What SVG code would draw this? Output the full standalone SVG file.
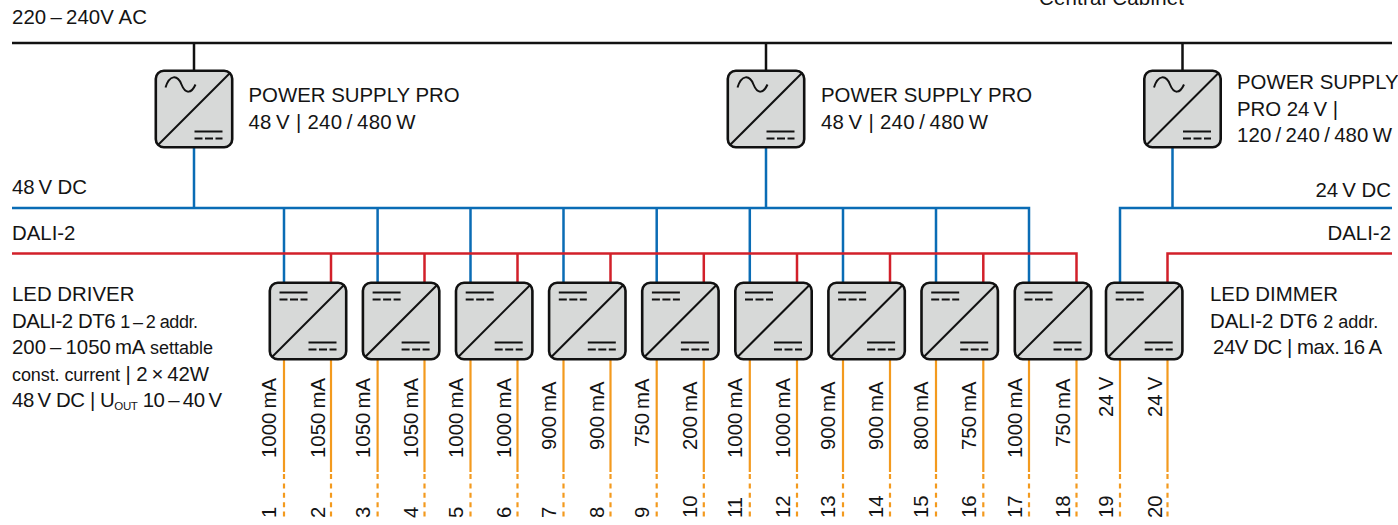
<svg xmlns="http://www.w3.org/2000/svg" xmlns:xlink="http://www.w3.org/1999/xlink" width="1398" height="525" viewBox="0 0 1398 525">
<style>
text{font-family:"Liberation Sans",Arial,sans-serif;font-size:20.4px;fill:#141414}
.s{font-size:18px}
.o{font-size:11.500px}
.e{text-anchor:end}
.box{fill:#d7d9d8;stroke:#111;stroke-width:2.6}
.in{fill:none;stroke:#111;stroke-width:2}
.ac{stroke:#111;stroke-width:2.5;fill:none}
.dc{stroke:#0a6cb5;stroke-width:2.5;fill:none}
.da{stroke:#d2202a;stroke-width:2.5;fill:none}
.out{stroke:#f39a1e;stroke-width:2.2;fill:none}
.das{stroke:#f39a1e;stroke-width:2.2;fill:none;stroke-dasharray:5 4.4}
</style>
<defs>
<g id="psu">
<rect class="box" x="1.3" y="1.3" width="76.4" height="76.4" rx="8"/>
<path class="in" d="M4 75L76 3"/>
<path class="in" d="M11 18C15 5 23 5 27 15S37 24 41 15"/>
<path class="in" d="M40 62H68"/>
<path class="in" d="M40 69H68" stroke-dasharray="8 2.5"/>
</g>
<g id="drv">
<rect class="box" x="1.3" y="1.3" width="76.4" height="76.4" rx="8"/>
<path class="in" d="M4 75L76 3"/>
<path class="in" d="M11 11H39"/>
<path class="in" d="M11 18H39" stroke-dasharray="8 2.5"/>
<path class="in" d="M40 61H68"/>
<path class="in" d="M40 68H68" stroke-dasharray="8 2.5"/>
</g>
</defs>

<g id="connectors">
<path class="ac" d="M12 43H1392M194 43V70M766 43V70M1182.500 43V70"/>
<path class="dc" d="M12 208H1029V282M194 148V208M766 148V208M284 208V282M377.600 208V282M470.500 208V282M563.500 208V282M656.700 208V282M749.800 208V282M843 208V282M936 208V282"/>
<path class="dc" d="M1120 282V208H1392M1172.500 148V208"/>
<path class="da" d="M12 253.500H1076.500V282M331 253.500V282M424.500 253.500V282M517.500 253.500V282M610.500 253.500V282M703.800 253.500V282M797 253.500V282M890 253.500V282M983.300 253.500V282"/>
<path class="da" d="M1167.500 282V253.500H1392"/>
<path class="out" d="M284 359V472M331 359V472M377.600 359V472M424.500 359V472M470.500 359V472M517.500 359V472M563.500 359V472M610.500 359V472M656.700 359V472M703.800 359V472M749.800 359V472M797 359V472M843 359V472M890 359V472M936 359V472M983.300 359V472M1029 359V472M1076.500 359V472M1120 359V472M1167.500 359V472"/>
<path class="das" d="M284 474V519M331 474V519M377.600 474V519M424.500 474V519M470.500 474V519M517.500 474V519M563.500 474V519M610.500 474V519M656.700 474V519M703.800 474V519M749.800 474V519M797 474V519M843 474V519M890 474V519M936 474V519M983.300 474V519M1029 474V519M1076.500 474V519M1120 474V519M1167.500 474V519"/>
</g>

<text x="12" y="24" textLength="135" lengthAdjust="spacing">220&#8201;–&#8201;240V AC</text>
<text x="1039" y="5" textLength="145">Central Cabinet</text>
<text x="12" y="194" textLength="75">48&#8201;V DC</text>
<text x="12" y="240">DALI-2</text>
<text class="e" x="1391" y="197">24&#8201;V DC</text>
<text class="e" x="1391" y="240">DALI-2</text>

<g id="psu1"><use xlink:href="#psu" href="#psu" x="154.500" y="69.500"/><text x="248.500" y="102">POWER SUPPLY PRO</text><text x="248.500" y="129" textLength="167">48&#8201;V | 240&#8201;/&#8201;480&#8201;W</text></g>
<g id="psu2"><use xlink:href="#psu" href="#psu" x="726.500" y="69.500"/><text x="821" y="102">POWER SUPPLY PRO</text><text x="821" y="129" textLength="167">48&#8201;V | 240&#8201;/&#8201;480&#8201;W</text></g>
<g id="psu3"><use xlink:href="#psu" href="#psu" x="1143" y="69.500"/><text x="1237" y="89">POWER SUPPLY</text><text x="1237" y="116" textLength="101">PRO 24&#8201;V |</text><text x="1237" y="142" textLength="155">120&#8201;/&#8201;240&#8201;/&#8201;480&#8201;W</text></g>

<g id="driver-label">
<text x="12" y="301">LED DRIVER</text>
<text x="12" y="328" textLength="186">DALI-2 DT6 <tspan class="s">1&#8201;–&#8201;2 addr.</tspan></text>
<text x="12" y="354" textLength="201">200&#8201;–&#8201;1050&#8201;mA <tspan class="s">settable</tspan></text>
<text x="12" y="381" textLength="197"><tspan class="s">const. current</tspan> | 2&#8201;×&#8201;42W</text>
<text x="12" y="407" textLength="210">48&#8201;V DC | U<tspan class="o" dy="3">OUT</tspan><tspan dy="-3"> 10&#8201;–&#8201;40&#8201;V</tspan></text>
</g>
<g id="dimmer-label">
<text x="1210" y="301">LED DIMMER</text>
<text x="1210" y="328">DALI-2 DT6 <tspan class="s">2 addr.</tspan></text>
<text x="1213" y="354" textLength="169">24V DC | max.&#8201;16&#8201;A</text>
</g>

<g id="driver1"><use xlink:href="#drv" href="#drv" x="268.500" y="281.500"/><text transform="translate(276 458) rotate(-90)">1000&#8201;mA</text><text transform="translate(325 458) rotate(-90)">1050&#8201;mA</text><text transform="translate(276 518) rotate(-90)">1</text><text transform="translate(325 518) rotate(-90)">2</text></g>
<g id="driver2"><use xlink:href="#drv" href="#drv" x="361.600" y="281.500"/><text transform="translate(370 458) rotate(-90)">1050&#8201;mA</text><text transform="translate(418 458) rotate(-90)">1050&#8201;mA</text><text transform="translate(370 518) rotate(-90)">3</text><text transform="translate(418 518) rotate(-90)">4</text></g>
<g id="driver3"><use xlink:href="#drv" href="#drv" x="454.700" y="281.500"/><text transform="translate(463 458) rotate(-90)">1000&#8201;mA</text><text transform="translate(511 458) rotate(-90)">1000&#8201;mA</text><text transform="translate(463 518) rotate(-90)">5</text><text transform="translate(511 518) rotate(-90)">6</text></g>
<g id="driver4"><use xlink:href="#drv" href="#drv" x="547.800" y="281.500"/><text transform="translate(556 450) rotate(-90)">900&#8201;mA</text><text transform="translate(604 450) rotate(-90)">900&#8201;mA</text><text transform="translate(556 518) rotate(-90)">7</text><text transform="translate(604 518) rotate(-90)">8</text></g>
<g id="driver5"><use xlink:href="#drv" href="#drv" x="640.900" y="281.500"/><text transform="translate(649 447) rotate(-90)">750&#8201;mA</text><text transform="translate(697 450) rotate(-90)">200&#8201;mA</text><text transform="translate(649 518) rotate(-90)">9</text><text transform="translate(697 518) rotate(-90)">10</text></g>
<g id="driver6"><use xlink:href="#drv" href="#drv" x="734" y="281.500"/><text transform="translate(742 458) rotate(-90)">1000&#8201;mA</text><text transform="translate(790 458) rotate(-90)">1000&#8201;mA</text><text transform="translate(742 518) rotate(-90)">11</text><text transform="translate(790 518) rotate(-90)">12</text></g>
<g id="driver7"><use xlink:href="#drv" href="#drv" x="827.100" y="281.500"/><text transform="translate(835 450) rotate(-90)">900&#8201;mA</text><text transform="translate(883 450) rotate(-90)">900&#8201;mA</text><text transform="translate(835 518) rotate(-90)">13</text><text transform="translate(883 518) rotate(-90)">14</text></g>
<g id="driver8"><use xlink:href="#drv" href="#drv" x="920.200" y="281.500"/><text transform="translate(928 450) rotate(-90)">800&#8201;mA</text><text transform="translate(976 450) rotate(-90)">750&#8201;mA</text><text transform="translate(928 518) rotate(-90)">15</text><text transform="translate(976 518) rotate(-90)">16</text></g>
<g id="driver9"><use xlink:href="#drv" href="#drv" x="1013.500" y="281.500"/><text transform="translate(1022 458) rotate(-90)">1000&#8201;mA</text><text transform="translate(1070 447) rotate(-90)">750&#8201;mA</text><text transform="translate(1022 518) rotate(-90)">17</text><text transform="translate(1070 518) rotate(-90)">18</text></g>
<g id="dimmer"><use xlink:href="#drv" href="#drv" x="1104.700" y="281.500"/><text transform="translate(1113 417) rotate(-90)">24&#8201;V</text><text transform="translate(1162 417) rotate(-90)">24&#8201;V</text><text transform="translate(1113 518) rotate(-90)">19</text><text transform="translate(1162 518) rotate(-90)">20</text></g>
</svg>
